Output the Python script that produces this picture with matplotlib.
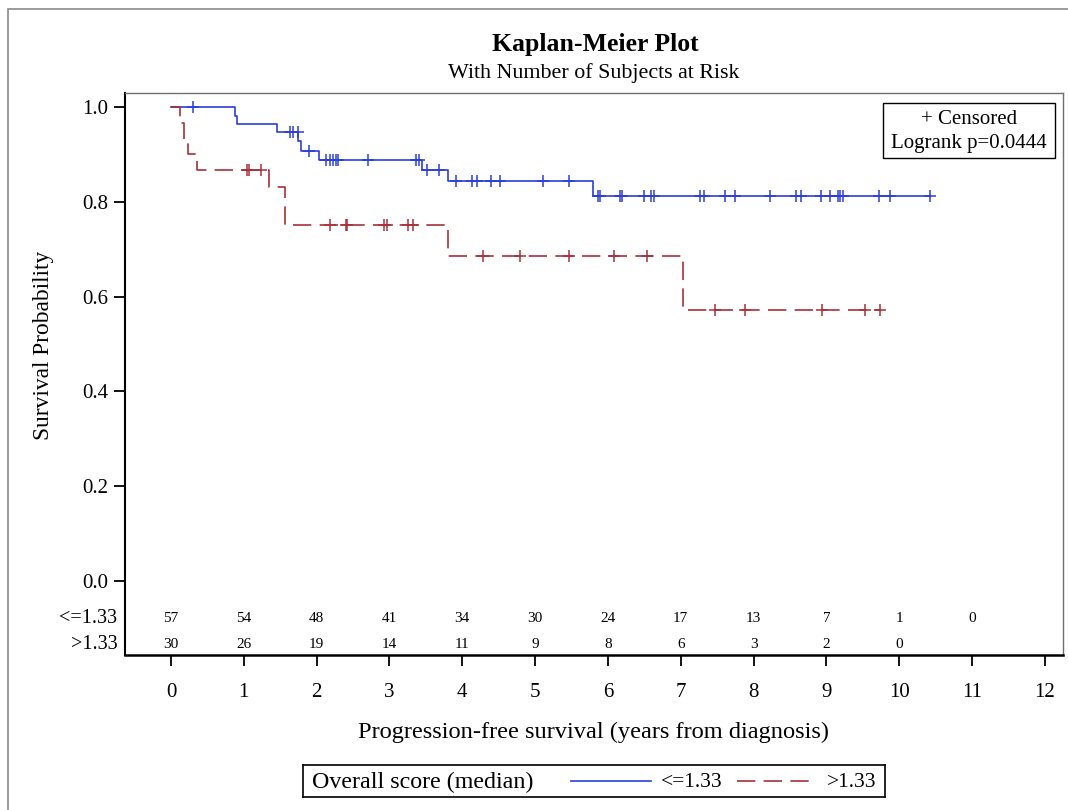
import numpy as np
import matplotlib
matplotlib.use('Agg')
import matplotlib.pyplot as plt
from matplotlib.lines import Line2D
from matplotlib.patches import Rectangle

plt.rcParams['font.family'] = ['Liberation Serif', 'DejaVu Serif']

# group labels
groups = ['<=1.33', '>1.33']
colors = ['#2b3ed8', '#a8303a']

# step points (time, survival after the step)
lo_times = [0.0, 0.88, 0.90, 1.46, 1.75, 1.79, 2.03, 3.44, 3.81, 5.79, 10.42]
lo_surv = [1.0, 0.982, 0.965, 0.947, 0.928, 0.908, 0.889, 0.867, 0.843, 0.812, 0.812]
lo_cens = [0.30, 1.63, 1.68, 1.74, 1.90, 2.13, 2.18, 2.22, 2.27, 2.30, 2.70,
           3.36, 3.41, 3.51, 3.68, 3.92, 4.14, 4.20, 4.40, 4.52, 5.11, 5.46,
           5.87, 5.89, 6.17, 6.20, 6.49, 6.59, 6.63, 7.27, 7.32, 7.61, 7.75,
           8.23, 8.59, 8.65, 8.93, 9.05, 9.16, 9.19, 9.23, 9.72, 9.87, 10.42]

hi_times = [0.0, 0.13, 0.18, 0.23, 0.35, 1.35, 1.56, 3.81, 7.03, 9.75]
hi_surv = [1.0, 0.967, 0.933, 0.900, 0.867, 0.831, 0.752, 0.686, 0.572, 0.572]
hi_cens = [1.05, 1.07, 1.24, 2.19, 2.40, 2.41, 2.92, 2.96, 3.26, 3.32, 4.28,
           4.79, 5.47, 6.08, 6.54, 7.47, 7.88, 8.94, 9.53, 9.73]

# number at risk
risk_times = list(range(12))
lo_risk = [57, 54, 48, 41, 34, 30, 24, 17, 13, 7, 1, 0]
hi_risk = [30, 26, 19, 14, 11, 9, 8, 6, 3, 2, 0]

logrank_p = '0.0444'


def surv_at(times, surv, t):
    idx = np.searchsorted(times, t, side='right') - 1
    return np.array(surv)[idx]


fig = plt.figure(figsize=(10.68, 8.10), dpi=100)
W, H = 1068.0, 810.0

# outer frame
fig.add_artist(Rectangle((8 / W, -0.1), 1.2, 1 - 9 / H + 0.1, transform=fig.transFigure,
                         fill=False, ec='#8a8a8a', lw=1.2))

ax = fig.add_axes([125 / W, 1 - 655 / H, (1063 - 125) / W, (655 - 93) / H])
ax.set_xlim(-0.632, 12.25)
ax.set_ylim(-0.156, 1.0295)

dash = (11, 5)
ax.plot(lo_times, lo_surv, drawstyle='steps-post', color=colors[0], lw=1.2)
ax.plot(hi_times, hi_surv, drawstyle='steps-post', color=colors[1], lw=1.2,
        dashes=dash)
ax.plot(lo_cens, surv_at(lo_times, lo_surv, lo_cens), ls='none', marker='+',
        ms=8, mew=1.1, color=colors[0])
ax.plot(hi_cens, surv_at(hi_times, hi_surv, hi_cens), ls='none', marker='+',
        ms=8, mew=1.1, color=colors[1])

# spines
for s in ['top', 'right']:
    ax.spines[s].set_color('#707070')
    ax.spines[s].set_linewidth(1.0)
ax.spines['left'].set_linewidth(1.5)
ax.spines['bottom'].set_linewidth(1.8)

ax.set_yticks([0.0, 0.2, 0.4, 0.6, 0.8, 1.0])
ax.set_yticklabels(['0.0', '0.2', '0.4', '0.6', '0.8', '1.0'])
ax.set_xticks(range(13))
ax.tick_params(axis='both', direction='out', length=8, width=1.3, labelsize=15)
ax.tick_params(axis='x', pad=12)
ax.tick_params(axis='y', pad=4)

# at risk table
for t, n in zip(risk_times, lo_risk):
    ax.text(t, -0.080, str(n), ha='center', va='center', fontsize=11)
for t, n in zip(risk_times, hi_risk):
    ax.text(t, -0.133, str(n), ha='center', va='center', fontsize=11)
trans = ax.get_yaxis_transform()
ax.text(-0.008, -0.080, groups[0], transform=trans, ha='right', va='center', fontsize=14.5)
ax.text(-0.008, -0.133, groups[1], transform=trans, ha='right', va='center', fontsize=14.5)

# censored / logrank box
ax.add_patch(Rectangle((0.808, 0.8843), 0.9915 - 0.808, 0.982 - 0.8843,
                       transform=ax.transAxes, fc='white', ec='black', lw=1.0, zorder=5))
ax.text(0.9, 0.952, '+ Censored', transform=ax.transAxes, ha='center', va='center',
        fontsize=15, zorder=6)
ax.text(0.9, 0.911, 'Logrank p=' + logrank_p, transform=ax.transAxes, ha='center',
        va='center', fontsize=15, zorder=6)

# titles and labels
fig.text(595 / W, 1 - 45 / H, 'Kaplan-Meier Plot', ha='center', va='center',
         fontsize=18.5, fontweight='bold')
fig.text(594 / W, 1 - 73 / H, 'With Number of Subjects at Risk', ha='center',
         va='center', fontsize=15.8)
fig.text(594 / W, 1 - 732 / H, 'Progression-free survival (years from diagnosis)',
         ha='center', va='center', fontsize=17.6)
fig.text(44 / W, 1 - 345 / H, 'Survival Probability', ha='center', va='center',
         rotation=90, fontsize=16.8)

# bottom legend
lax = fig.add_axes([303 / W, 1 - 797 / H, (885 - 303) / W, (797 - 765) / H])
lax.set_xlim(303, 885)
lax.set_ylim(0, 1)
lax.set_xticks([])
lax.set_yticks([])
for s in lax.spines.values():
    s.set_linewidth(1.2)
lax.text(312, 0.45, 'Overall score (median)', ha='left', va='center', fontsize=17.3)
lax.add_line(Line2D([571, 651], [0.5, 0.5], color=colors[0], lw=1.2))
lax.text(661, 0.45, groups[0], ha='left', va='center', fontsize=15.5)
lax.add_line(Line2D([737, 811], [0.5, 0.5], color=colors[1], lw=1.2, dashes=dash))
lax.text(827, 0.45, groups[1], ha='left', va='center', fontsize=15.5)

fig.savefig('out.png', dpi=100)
